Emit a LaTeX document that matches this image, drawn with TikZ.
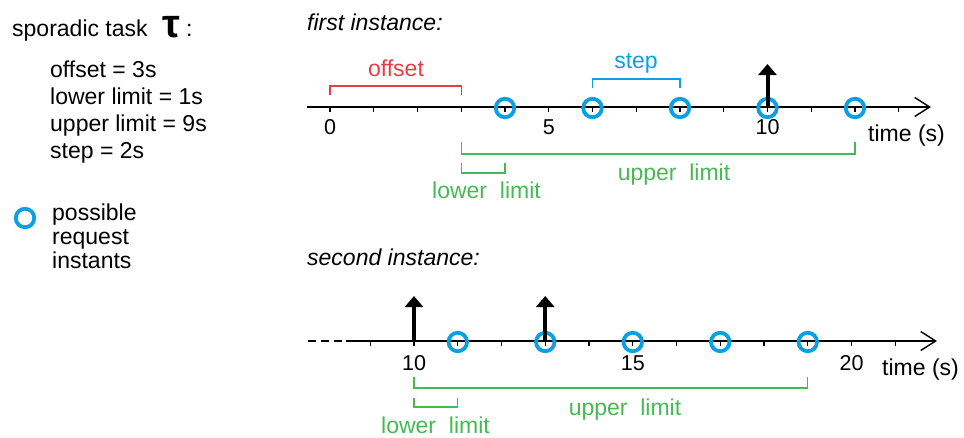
\documentclass[tikz,border=0pt]{standalone}
\usepackage{fontspec}
\setmainfont{Liberation Sans}
\usetikzlibrary{arrows.meta}
\definecolor{cblue}{RGB}{10,160,226}
\definecolor{cred}{RGB}{236,58,68}
\definecolor{cgreen}{RGB}{70,186,82}
\begin{document}
\begin{tikzpicture}[x=1pt,y=-1pt,
  txt/.style={font=\fontsize{23}{26}\selectfont, inner sep=0pt, anchor=base west},
  itxt/.style={font=\fontsize{23}{26}\selectfont\itshape, inner sep=0pt, anchor=base west},
  num/.style={font=\fontsize{21.5}{24}\selectfont, inner sep=0pt, anchor=base},
  axisline/.style={line width=1.4pt},
  tickmark/.style={line width=1.1pt},
  req/.style={circle, draw=cblue, line width=3.8pt, minimum size=18.5pt, inner sep=0pt},
  reqarrow/.style={line width=4pt, -{Triangle[length=11pt,width=18pt]}},
  brk/.style={line width=1.3pt},
  axtip/.style={-{Straight Barb[length=15pt,width=19pt]}},
]
\useasboundingbox (0,0) rectangle (964,437);

% ---------- left description ----------
\node[txt] (title) at (12,36) {sporadic task};
\node[anchor=base west, inner sep=0pt, font=\fontsize{40}{40}\selectfont\bfseries] (tau) at (162,37) {τ};
\node[txt] (colon) at (186,36) {:};
\node[txt] (p1) at (50,77) {offset = 3s};
\node[txt] (p2) at (50,104) {lower limit = 1s};
\node[txt] (p3) at (50,131) {upper limit = 9s};
\node[txt] (p4) at (50,158) {step = 2s};
\node[req] (leg) at (25,218) {};
\node[txt] (l1) at (52,220) {possible};
\node[txt] (l2) at (52,244) {request};
\node[txt] (l3) at (52,268) {instants};

% ---------- first instance ----------
\node[itxt] (fi) at (307,30) {first instance:};
\coordinate (a1s) at (307,107);
\coordinate (a1e) at (931,107);
\draw[axisline, axtip] (a1s) -- (a1e);
\foreach \t in {0,...,13} \draw[tickmark] ({330+43.75*\t},107) -- ++(0,5);
\node[num] (n0) at (330,134) {0};
\node[num] (n5) at (548.75,134) {5};
\node[num] (n10) at (767.5,134) {10};
\node[txt] (time1) at (868,141) {time (s)};
\foreach \t in {4,6,8,10,12} \node[req] (c\t) at ({330+43.75*\t},108) {};
\coordinate (r10top) at (767.5,64);
\draw[reqarrow] (c10.center) -- (r10top);
% offset
\draw[brk, cred] (330,95) -- (330,86) -- (461.25,86) -- (461.25,95);
\node[txt, cred, anchor=base] (off) at (396,76) {offset};
% step
\draw[brk, cblue] (c6.center |- 0,88) -- (c6.center |- 0,79) -- (c8.center |- 0,79) -- (c8.center |- 0,88);
\node[txt, cblue, anchor=base] (stp) at (636,68) {step};
% limits
\draw[brk, cgreen] (461.25,142) -- (461.25,154) -- (855,154) -- (855,142);
\node[txt, cgreen, anchor=base] (ul1) at (674,180) {upper\ \ limit};
\draw[brk, cgreen] (461.25,163) -- (461.25,173) -- (505,173) -- (505,163);
\node[txt, cgreen] (ll1) at (432,198) {lower\ \ limit};

% ---------- second instance ----------
\node[itxt] (si) at (307,265) {second instance:};
\coordinate (a2s) at (308,341);
\coordinate (a2m) at (346,341);
\coordinate (a2e) at (937,341);
\draw[axisline, dash pattern=on 8pt off 5pt] (a2s) -- (a2m);
\draw[axisline, axtip] (a2m) -- (a2e);
\foreach \t in {9,...,21} \draw[tickmark] ({-23.5+43.75*\t},341) -- ++(0,5);
\node[num] (m10) at (414,370) {10};
\node[num] (m15) at (632.75,370) {15};
\node[num] (m20) at (851.5,370) {20};
\node[txt] (time2) at (882,375) {time (s)};
\foreach \t in {11,13,15,17,19} \node[req] (d\t) at ({-23.5+43.75*\t},342) {};
\coordinate (q10) at (414,341);
\coordinate (q10top) at (414,296);
\coordinate (q13top) at (545.25,296);
\draw[reqarrow] (q10) -- (q10top);
\draw[reqarrow] (d13.center) -- (q13top);
\draw[brk, cgreen] (414,377) -- (414,388) -- (807.5,388) -- (807.5,377);
\node[txt, cgreen, anchor=base] (ul2) at (625,415) {upper\ \ limit};
\draw[brk, cgreen] (414,398) -- (414,407) -- (457.75,407) -- (457.75,398);
\node[txt, cgreen] (ll2) at (381,433) {lower\ \ limit};
\end{tikzpicture}
\end{document}
